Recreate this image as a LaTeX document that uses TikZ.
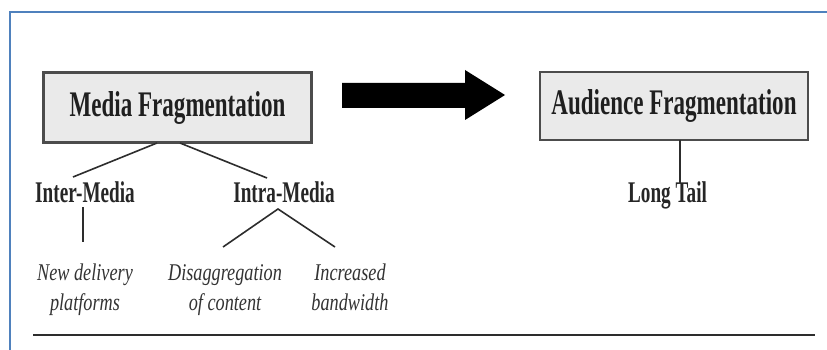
\documentclass[tikz,border=0pt]{standalone}
\usepackage{fontspec}
\setmainfont{Liberation Serif}
\newfontfamily\boldcond[FakeStretch=0.64]{Liberation Serif}
\newfontfamily\italcond[FakeStretch=0.76]{Liberation Serif}
\definecolor{frameblue}{RGB}{79,129,189}
\definecolor{inkgray}{RGB}{45,45,45}
\definecolor{boxfill}{RGB}{234,234,234}
\begin{document}
\begin{tikzpicture}[x=1pt,y=-1pt,
  titlebox/.style={draw=inkgray!85, line width=2.2pt, fill=boxfill,
    minimum width=268pt, minimum height=70pt, inner sep=0pt,
    font=\boldcond\bfseries\fontsize{36}{40}\selectfont, text=black!88},
  subhead/.style={anchor=base, inner sep=0pt, text=black!85,
    font=\boldcond\bfseries\fontsize{30}{34}\selectfont},
  leaf/.style={anchor=base, inner sep=0pt, align=center, text=black!80,
    font=\italcond\itshape\fontsize{24}{30}\selectfont},
  branch/.style={draw=inkgray, line width=1.6pt}]
  \useasboundingbox (0,0) rectangle (827,350);
  \fill[white] (0,0) rectangle (827,350);

  % outer frame (left and top edges)
  \draw[frameblue, line width=2.6pt] (10,352) -- (10,12) -- (829,12);

  % the two headline boxes
  \node[titlebox] (media) at (177.5,107.5) {Media Fragmentation};
  \node[titlebox, minimum height=68pt] (audience) at (674,106) {Audience Fragmentation};

  % block arrow between them
  \fill[black] (342,83) -- (465,83) -- (465,70) -- (505,95)
    -- (465,120) -- (465,108) -- (342,108) -- cycle;

  % second level
  \node[subhead] (inter) at (85,202) {Inter-Media};
  \node[subhead] (intra) at (284,202) {Intra-Media};
  \node[subhead] (tail) at (667.5,202) {Long Tail};

  % third level (anchored on the baseline of the second line)
  \node[leaf] (delivery) at (85,310) {New delivery\\platforms};
  \node[leaf] (disagg) at (225,310) {Disaggregation\\of content};
  \node[leaf] (band) at (350,310) {Increased\\bandwidth};

  % branch end points
  \coordinate (m1) at (157,143);
  \coordinate (m2) at (180,143);
  \coordinate (i1) at (73,177);
  \coordinate (i2) at (267,178);
  \coordinate (v1) at (83,207);
  \coordinate (v2) at (83,242);
  \coordinate (apex) at (278,209);
  \coordinate (d1) at (223,247);
  \coordinate (d2) at (335,247);
  \coordinate (t1) at (680,140);
  \coordinate (t2) at (680,183);

  \draw[branch] (m1) -- (i1);
  \draw[branch] (m2) -- (i2);
  \draw[branch] (v1) -- (v2);
  \draw[branch] (d1) -- (apex) -- (d2);
  \draw[branch] (t1) -- (t2);

  % closing rule
  \coordinate (r1) at (33,335);
  \coordinate (r2) at (815,335);
  \draw[inkgray, line width=2pt] (r1) -- (r2);
\end{tikzpicture}
\end{document}
